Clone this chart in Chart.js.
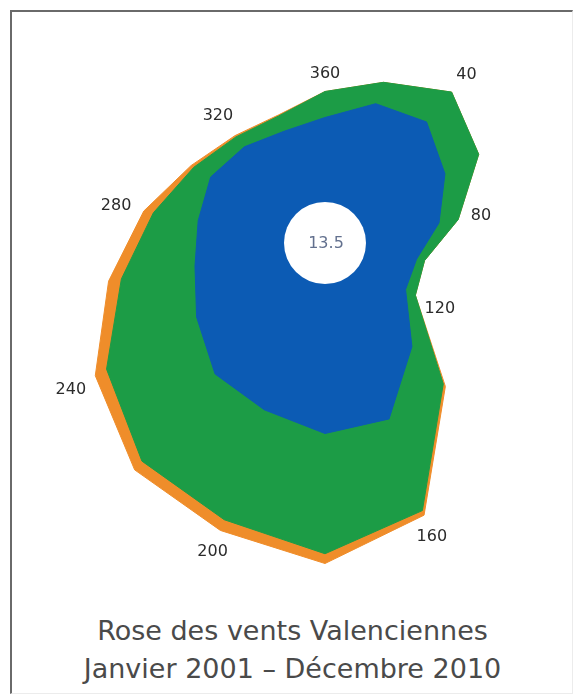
<!DOCTYPE html>
<html><head><meta charset="utf-8">
<script src="https://cdn.jsdelivr.net/npm/chart.js@4.4.1/dist/chart.umd.min.js"></script>
<style>
html,body{margin:0;padding:0;background:#fff;width:581px;height:698px;overflow:hidden;position:relative}
#frame{position:absolute;left:10px;top:10px;width:563px;height:684px;border-top:2px solid #6a6a6a;border-left:2px solid #6a6a6a;border-right:1px solid #ececec;border-bottom:1px solid #ececec;box-sizing:border-box}
#wrap{position:absolute;left:0;top:-120px;width:650px;height:726px}
#title{position:absolute;left:2px;width:581px;top:612px;text-align:center;font-family:"DejaVu Sans",Verdana,sans-serif;font-size:27px;line-height:38px;color:#4a4a4a}
</style></head>
<body>
<div id="frame"></div>
<div id="wrap"><canvas id="c" width="650" height="726" style="width:650px;height:726px"></canvas></div>
<div id="title">Rose des vents Valenciennes<br>Janvier 2001 – Décembre 2010</div>
<script>
// Wind directions (degrees), one per 20°
const directions = ['360','20','40','60','80','100','120','140','160','180','200','220','240','260','280','300','320','340'];
// Direction labels shown on the chart
const tickLabels = ['360','40','80','120','160','200','240','280','320'];
// Calm winds (%)
const calmPercent = 13.5;
// Frequency (%) per speed class and direction
const lowSpeed  = [2.6, 3.3, 3.6, 3.0, 2.3, 1.6, 1.6, 2.9, 4.5, 4.6, 4.2, 4.0, 3.3, 2.8, 2.7, 2.8, 2.6, 2.4];
const midSpeed  = [0.8, 0.7, 1.2, 1.2, 0.6, 0.25, 0.35, 1.5, 3.0, 3.7, 3.6, 3.5, 3.2, 2.3, 1.4, 0.6, 0.4, 0.5];
const highSpeed = [0, 0, 0, 0, 0, 0, 0, 0.1, 0.15, 0.3, 0.35, 0.35, 0.4, 0.4, 0.3, 0.1, 0.05, 0.03];

const cumLow = lowSpeed.slice();
const cumMid = lowSpeed.map((v, i) => v + midSpeed[i]);
const cumHigh = cumMid.map((v, i) => v + highSpeed[i]);

const CALM_R = 41, PX_PER_UNIT = 32.5, AREA_R = 325;
const BLUE = '#0c5bb4', GREEN = '#1c9c46', ORANGE = '#ef8d2a';

const rosePlugin = {
  id: 'rose',
  afterDatasetsDraw(chart) {
    const s = chart.scales.r, ctx = chart.ctx;
    const r0 = s.getDistanceFromCenterForValue(0);
    ctx.save();
    ctx.beginPath();
    ctx.arc(s.xCenter, s.yCenter, r0, 0, Math.PI * 2);
    ctx.fillStyle = '#ffffff';
    ctx.fill();
    ctx.font = '16px "DejaVu Sans"';
    ctx.textAlign = 'center';
    ctx.textBaseline = 'middle';
    ctx.fillStyle = '#62708e';
    ctx.fillText(calmPercent.toFixed(1), s.xCenter + 1, s.yCenter + 1);
    ctx.fillStyle = '#2b2b2b';
    tickLabels.forEach(lab => {
      const i = directions.indexOf(lab);
      const ang = i * 2 * Math.PI / directions.length;
      const hw = ctx.measureText(lab).width / 2, hh = 6;
      const d = s.getDistanceFromCenterForValue(cumHigh[i]) + 12 + hw * Math.abs(Math.sin(ang)) + hh * Math.abs(Math.cos(ang));
      const p = s.getPointPosition(i, d);
      ctx.fillText(lab, p.x, p.y);
    });
    ctx.restore();
  }
};

const ds = (data, color) => ({
  data, backgroundColor: color, borderColor: color, borderWidth: 1,
  fill: 'start', pointRadius: 0, pointHoverRadius: 0, clip: false
});

new Chart(document.getElementById('c'), {
  type: 'radar',
  data: {
    labels: directions,
    datasets: [ds(cumLow, BLUE), ds(cumMid, GREEN), ds(cumHigh, ORANGE)]
  },
  options: {
    responsive: false,
    devicePixelRatio: 1,
    animation: false,
    events: [],
    layout: { padding: 0 },
    plugins: { legend: { display: false }, tooltip: { enabled: false }, title: { display: false } },
    elements: { line: { tension: 0 } },
    scales: {
      r: {
        min: -CALM_R / PX_PER_UNIT,
        max: (AREA_R - CALM_R) / PX_PER_UNIT,
        ticks: { display: false },
        grid: { display: false },
        angleLines: { display: false },
        pointLabels: { display: false }
      }
    }
  },
  plugins: [rosePlugin]
});
</script>
</body></html>
